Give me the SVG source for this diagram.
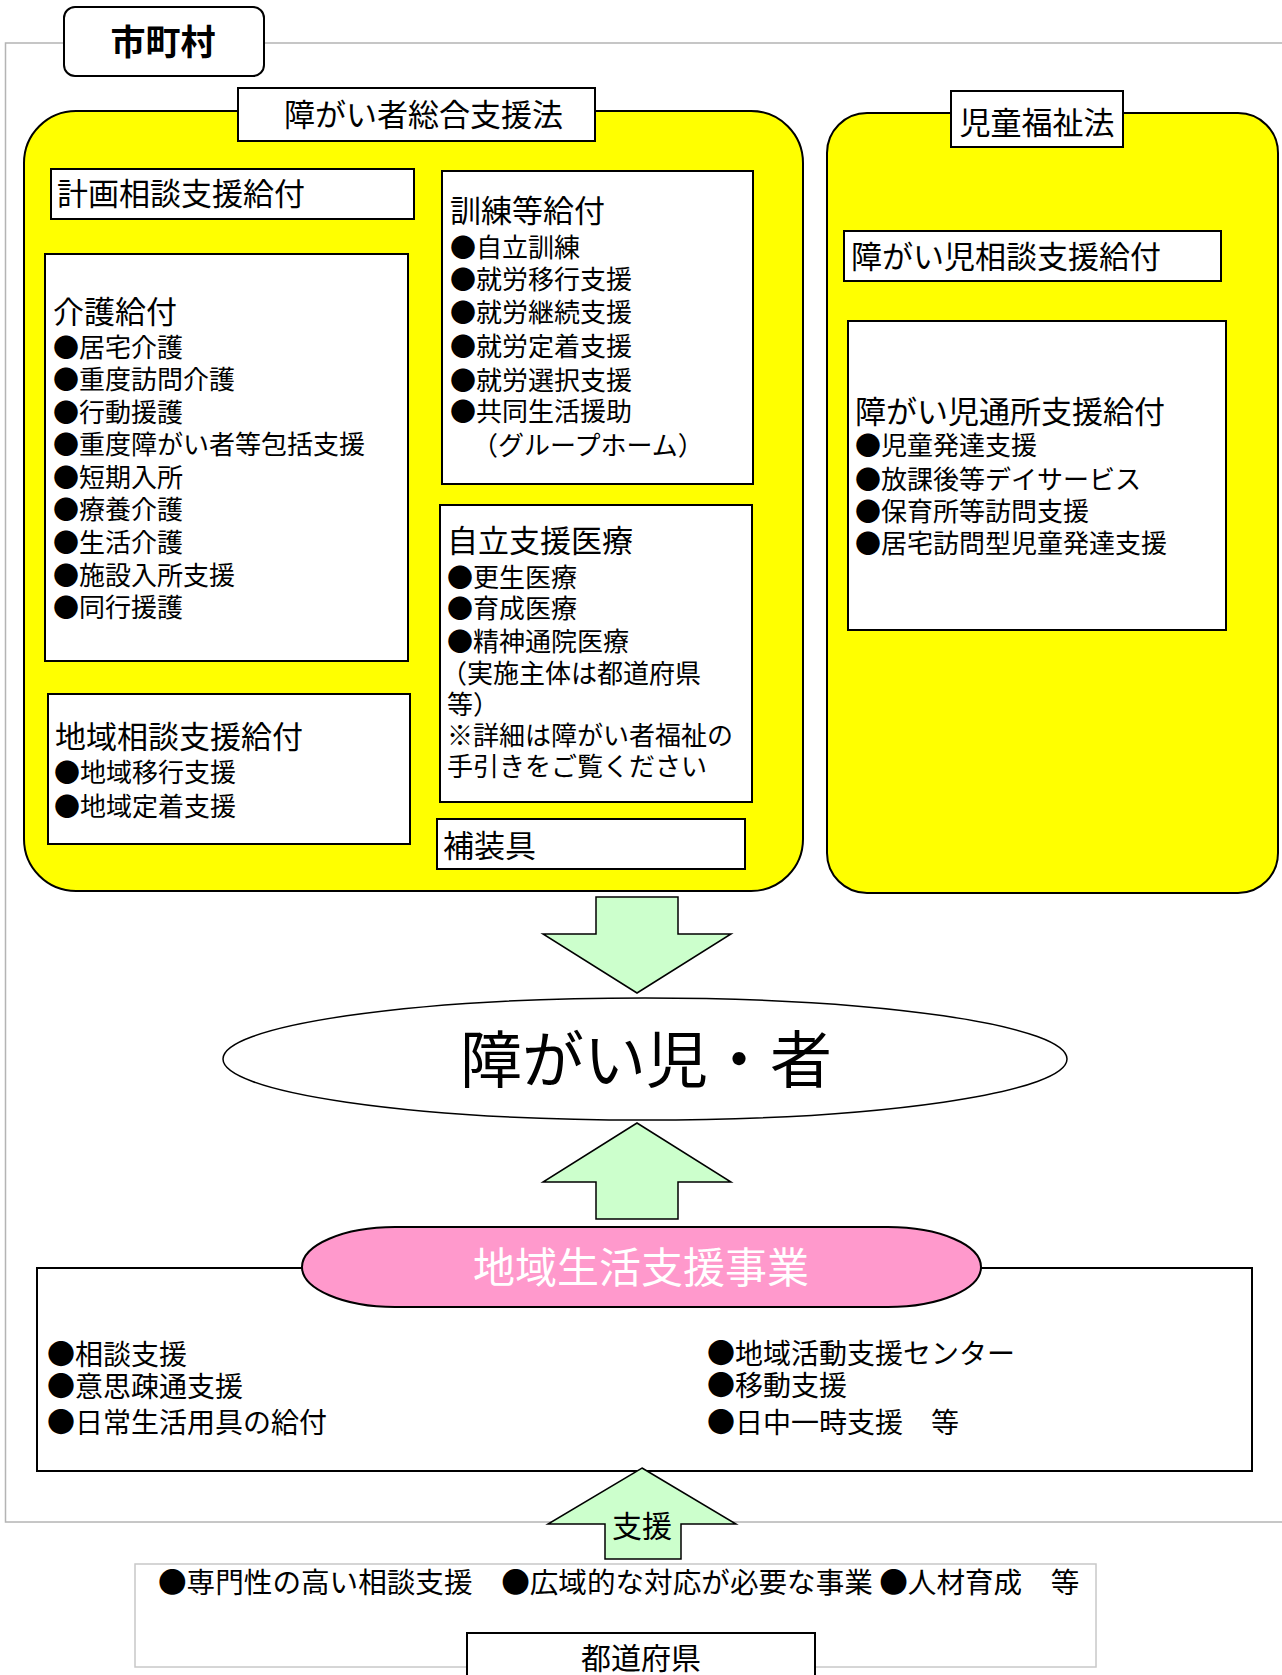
<svg xmlns="http://www.w3.org/2000/svg" width="1282" height="1675" viewBox="0 0 1282 1675">
<style>
.t{font-family:"Noto Sans CJK JP","Noto Sans CJK SC",sans-serif;fill:#000}
.h{font-size:31px}
.b{font-size:26px}
.c{font-size:28px}
.box{fill:#fff;stroke:#000;stroke-width:2}
.yel{fill:#ffff00;stroke:#000;stroke-width:2}
.arrow{fill:#ccffcc;stroke:#000;stroke-width:1.5;stroke-linejoin:miter}
.gray{fill:none;stroke:#b4b4b4;stroke-width:1.5}
</style>
<rect width="1282" height="1675" fill="#fff"/>

<g id="municipality-frame">
  <rect class="gray" x="5.5" y="43" width="1300" height="1479"/>
</g>
<g id="municipality-label">
  <rect x="64" y="7" width="200" height="69" rx="11" fill="#fff" stroke="#000" stroke-width="2"/>
  <text class="t" x="163" y="55" font-size="35" font-weight="bold" text-anchor="middle">市町村</text>
</g>

<g id="sogo-panel">
  <rect class="yel" x="24" y="111" width="779" height="780" rx="52"/>
</g>
<g id="sogo-label">
  <rect class="box" x="238" y="88" width="357" height="53"/>
  <text class="t h" x="284" y="126">障がい者総合支援法</text>
</g>

<g id="jido-panel">
  <rect class="yel" x="827" y="113" width="451" height="780" rx="40"/>
</g>
<g id="jido-label">
  <rect class="box" x="951" y="91" width="172" height="56"/>
  <text class="t h" x="1037" y="134" text-anchor="middle">児童福祉法</text>
</g>

<g id="keikaku">
  <rect class="box" x="51" y="169" width="363" height="50"/>
  <text class="t h" x="57" y="205">計画相談支援給付</text>
</g>

<g id="kaigo">
  <rect class="box" x="45" y="254" width="363" height="407"/>
  <text class="t h" x="53" y="323">介護給付</text>
  <text class="t b" x="53" y="357">●居宅介護</text>
  <text class="t b" x="53" y="389">●重度訪問介護</text>
  <text class="t b" x="53" y="422">●行動援護</text>
  <text class="t b" x="53" y="454">●重度障がい者等包括支援</text>
  <text class="t b" x="53" y="487">●短期入所</text>
  <text class="t b" x="53" y="519">●療養介護</text>
  <text class="t b" x="53" y="552">●生活介護</text>
  <text class="t b" x="53" y="585">●施設入所支援</text>
  <text class="t b" x="53" y="617">●同行援護</text>
</g>

<g id="chiiki-sodan">
  <rect class="box" x="48" y="694" width="362" height="150"/>
  <text class="t h" x="55" y="748">地域相談支援給付</text>
  <text class="t b" x="54" y="782">●地域移行支援</text>
  <text class="t b" x="54" y="816">●地域定着支援</text>
</g>

<g id="kunren">
  <rect class="box" x="442" y="171" width="311" height="313"/>
  <text class="t h" x="450" y="222">訓練等給付</text>
  <text class="t b" x="450" y="257">●自立訓練</text>
  <text class="t b" x="450" y="289">●就労移行支援</text>
  <text class="t b" x="450" y="322">●就労継続支援</text>
  <text class="t b" x="450" y="356">●就労定着支援</text>
  <text class="t b" x="450" y="390">●就労選択支援</text>
  <text class="t b" x="450" y="421">●共同生活援助</text>
  <text class="t b" x="472" y="455">（グループホーム）</text>
</g>

<g id="jiritsu-iryo">
  <rect class="box" x="440" y="505" width="312" height="297"/>
  <text class="t h" x="447" y="552">自立支援医療</text>
  <text class="t b" x="447" y="587">●更生医療</text>
  <text class="t b" x="447" y="618">●育成医療</text>
  <text class="t b" x="447" y="651">●精神通院医療</text>
  <text class="t b" x="441" y="683">（実施主体は都道府県</text>
  <text class="t b" x="447" y="714">等）</text>
  <text class="t b" x="447" y="745">※詳細は障がい者福祉の</text>
  <text class="t b" x="447" y="776">手引きをご覧ください</text>
</g>

<g id="hosogu">
  <rect class="box" x="437" y="819" width="308" height="50"/>
  <text class="t h" x="443" y="857">補装具</text>
</g>

<g id="jido-sodan">
  <rect class="box" x="844" y="231" width="377" height="50"/>
  <text class="t h" x="851" y="268">障がい児相談支援給付</text>
</g>

<g id="jido-tsusho">
  <rect class="box" x="848" y="321" width="378" height="309"/>
  <text class="t h" x="855" y="423">障がい児通所支援給付</text>
  <text class="t b" x="855" y="455">●児童発達支援</text>
  <text class="t b" x="855" y="489">●放課後等デイサービス</text>
  <text class="t b" x="855" y="521">●保育所等訪問支援</text>
  <text class="t b" x="855" y="553">●居宅訪問型児童発達支援</text>
</g>

<g id="person">
  <ellipse cx="645" cy="1059" rx="422" ry="61" fill="#fff" stroke="#000" stroke-width="1.5"/>
  <text class="t" x="646" y="1083" font-size="62" text-anchor="middle">障がい児・者</text>
</g>

<g id="chiiki-seikatsu">
  <rect x="37" y="1268" width="1215" height="203" fill="#fff" stroke="#000" stroke-width="2"/>
  <rect x="302" y="1227" width="679" height="80" rx="93" ry="40" fill="#ff99cc" stroke="#000" stroke-width="2"/>
  <text class="t" x="641" y="1283" font-size="42" text-anchor="middle" style="fill:#fff">地域生活支援事業</text>
  <text class="t c" x="47" y="1365">●相談支援</text>
  <text class="t c" x="47" y="1397">●意思疎通支援</text>
  <text class="t c" x="47" y="1433">●日常生活用具の給付</text>
  <text class="t c" x="707" y="1364">●地域活動支援センター</text>
  <text class="t c" x="707" y="1396">●移動支援</text>
  <text class="t c" x="707" y="1433">●日中一時支援　等</text>
</g>

<g id="prefecture">
  <rect x="135" y="1564" width="961" height="103" fill="#fff" stroke="#c8c8c8" stroke-width="1.5"/>
  <text class="t" x="158" y="1593" font-size="28.6">●専門性の高い相談支援　●広域的な対応が必要な事業 ●人材育成　等</text>
  <rect x="467" y="1633" width="348" height="60" fill="#fff" stroke="#000" stroke-width="2"/>
  <text class="t" x="641" y="1669" font-size="30" text-anchor="middle">都道府県</text>
</g>

<g id="connectors">
  <polygon class="arrow" points="596,897 678,897 678,934 731,934 637,993 543,934 596,934"/>
  <polygon class="arrow" points="637,1123 731,1182 678,1182 678,1219 596,1219 596,1182 543,1182"/>
  <polygon class="arrow" points="642,1468 736,1524 681,1524 681,1559 605,1559 605,1524 548,1524"/>
  <text class="t" x="642" y="1537" font-size="30" text-anchor="middle">支援</text>
</g>
</svg>
